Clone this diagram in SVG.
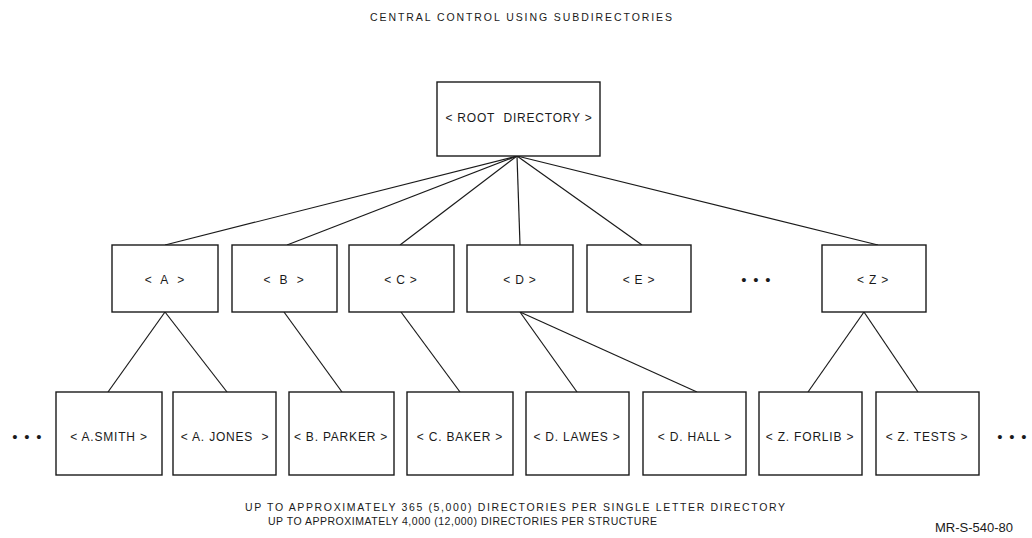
<svg xmlns="http://www.w3.org/2000/svg" width="1032" height="538" viewBox="0 0 1032 538">
  <style>
    .box { fill: #ffffff; stroke: #1a1a1a; stroke-width: 1.4; }
    .lbl { font-family: "Liberation Sans", Arial, sans-serif; font-size: 12px; fill: #1a1a1a; text-anchor: middle; dominant-baseline: central; letter-spacing: 0.8px; }
    .cap { font-family: "Liberation Sans", Arial, sans-serif; font-size: 10.5px; fill: #1a1a1a; }
    .dots { font-family: "Liberation Sans", Arial, sans-serif; font-size: 15px; fill: #1a1a1a; text-anchor: middle; dominant-baseline: central; }
    .edge { stroke: #1a1a1a; stroke-width: 1.2; fill: none; }
  </style>
  <rect width="1032" height="538" fill="#ffffff"/>

  <text class="cap" x="370" y="21" textLength="302" lengthAdjust="spacing">CENTRAL CONTROL USING SUBDIRECTORIES</text>

  <!-- tree connectors -->
  <g id="connectors">
    <line class="edge" x1="517" y1="156" x2="165" y2="245"/>
    <line class="edge" x1="517" y1="156" x2="287" y2="245"/>
    <line class="edge" x1="517" y1="156" x2="400" y2="245"/>
    <line class="edge" x1="517" y1="156" x2="520" y2="245"/>
    <line class="edge" x1="517" y1="156" x2="642" y2="245"/>
    <line class="edge" x1="517" y1="156" x2="878" y2="245"/>
    <line class="edge" x1="165" y1="312" x2="108" y2="392"/>
    <line class="edge" x1="165" y1="312" x2="227" y2="392"/>
    <line class="edge" x1="284" y1="312" x2="342" y2="392"/>
    <line class="edge" x1="401" y1="312" x2="460" y2="392"/>
    <line class="edge" x1="520" y1="312" x2="577" y2="392"/>
    <line class="edge" x1="520" y1="312" x2="697" y2="392"/>
    <line class="edge" x1="864" y1="312" x2="808" y2="392"/>
    <line class="edge" x1="864" y1="312" x2="918" y2="392"/>
  </g>

  <g id="root">
    <rect class="box" x="437" y="82" width="163" height="74"/>
    <text class="lbl" x="519" y="118">&lt; ROOT&#160; DIRECTORY &gt;</text>
  </g>

  <g id="dir-a"><rect class="box" x="112" y="245" width="106" height="67"/><text class="lbl" x="165" y="280">&lt;&#160; A&#160; &gt;</text></g>
  <g id="dir-b"><rect class="box" x="232" y="245" width="105" height="67"/><text class="lbl" x="284" y="280">&lt;&#160; B&#160; &gt;</text></g>
  <g id="dir-c"><rect class="box" x="349" y="245" width="105" height="67"/><text class="lbl" x="401" y="280">&lt; C &gt;</text></g>
  <g id="dir-d"><rect class="box" x="467" y="245" width="106" height="67"/><text class="lbl" x="520" y="280">&lt; D &gt;</text></g>
  <g id="dir-e"><rect class="box" x="587" y="245" width="104" height="67"/><text class="lbl" x="639" y="280">&lt; E &gt;</text></g>
  <g id="dir-z"><rect class="box" x="822" y="245" width="104" height="67"/><text class="lbl" x="873" y="280">&lt; Z &gt;</text></g>
  <text class="dots" x="744 756 768" y="279">•••</text>

  <g id="a-smith"><rect class="box" x="56" y="392" width="106" height="83"/><text class="lbl" x="109" y="437">&lt; A.SMITH &gt;</text></g>
  <g id="a-jones"><rect class="box" x="173" y="392" width="103" height="83"/><text class="lbl" x="225" y="437">&lt; A. JONES&#160; &gt;</text></g>
  <g id="b-parker"><rect class="box" x="289" y="392" width="105" height="83"/><text class="lbl" x="341" y="437">&lt; B. PARKER &gt;</text></g>
  <g id="c-baker"><rect class="box" x="407" y="392" width="106" height="83"/><text class="lbl" x="460" y="437">&lt; C. BAKER &gt;</text></g>
  <g id="d-lawes"><rect class="box" x="526" y="392" width="103" height="83"/><text class="lbl" x="577" y="437">&lt; D. LAWES &gt;</text></g>
  <g id="d-hall"><rect class="box" x="643" y="392" width="103" height="83"/><text class="lbl" x="695" y="437">&lt; D. HALL &gt;</text></g>
  <g id="z-forlib"><rect class="box" x="759" y="392" width="103" height="83"/><text class="lbl" x="810" y="437">&lt; Z. FORLIB &gt;</text></g>
  <g id="z-tests"><rect class="box" x="876" y="392" width="103" height="83"/><text class="lbl" x="927" y="437">&lt; Z. TESTS &gt;</text></g>
  <text class="dots" x="15 27 39" y="436">•••</text>
  <text class="dots" x="1000 1012 1024" y="436">•••</text>

  <text class="cap" x="245" y="511" textLength="540" lengthAdjust="spacing">UP TO APPROXIMATELY 365 (5,000) DIRECTORIES PER SINGLE LETTER DIRECTORY</text>
  <text class="cap" x="268" y="525" textLength="389" lengthAdjust="spacing">UP TO APPROXIMATELY 4,000 (12,000) DIRECTORIES PER STRUCTURE</text>

  <text x="935" y="532" font-family="Liberation Sans, Arial, sans-serif" font-size="13" fill="#1a1a1a">MR-S-540-80</text>
</svg>
